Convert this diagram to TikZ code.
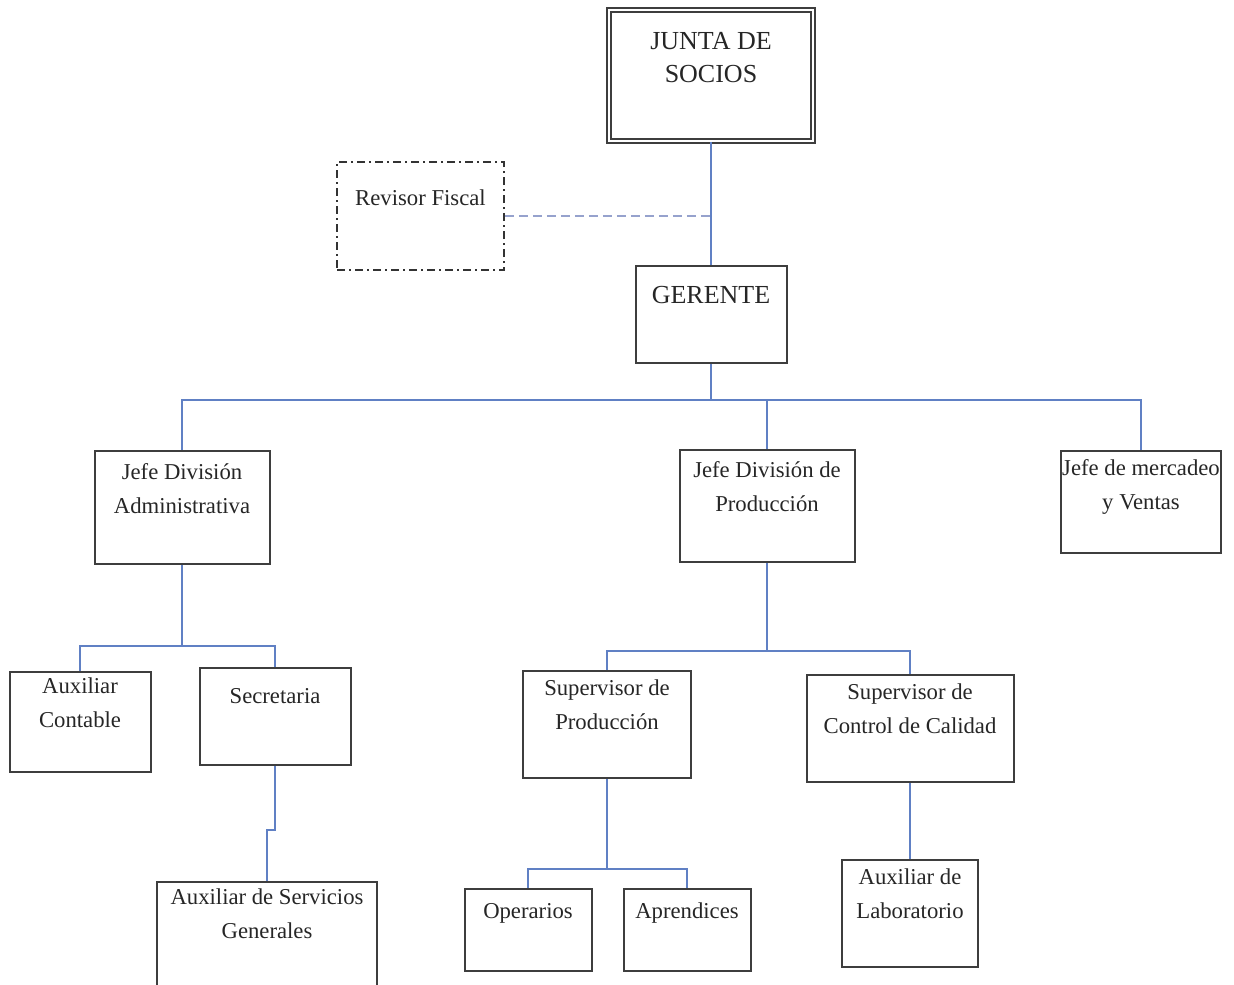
\documentclass[tikz,border=0pt]{standalone}
\usepackage{fontspec}
\setmainfont{Liberation Serif}
\definecolor{linkblue}{RGB}{96,128,196}
\definecolor{dashblue}{RGB}{150,162,205}
\definecolor{boxgray}{RGB}{62,62,62}
\begin{document}
\begin{tikzpicture}[x=1pt,y=-1pt,
  conn/.style={draw=linkblue, line width=1.8pt},
  orgbox/.style 2 args={draw=boxgray, line width=2pt, rectangle, inner sep=0pt,
    minimum width=#1pt, minimum height=#2pt},
  txt/.style={anchor=north, inner sep=0pt, align=center, text=black!85,
    font=\fontsize{22.7}{34}\selectfont},
  bigtxt/.style={txt, font=\fontsize{26}{33}\selectfont},
]
\useasboundingbox (0,0) rectangle (1234,985);

% top level
\node[orgbox={204}{131}, double, double distance=2pt,
  label={[bigtxt, yshift=-23pt]north:{JUNTA DE\\SOCIOS}}] (jds) at (711,75.5) {};
\node[draw=black!80, line width=1.5pt, dash pattern=on 8pt off 4pt on 2pt off 4pt,
  rectangle, inner sep=0pt, minimum width=167pt, minimum height=108pt,
  label={[txt, yshift=-28pt]north:{Revisor Fiscal}}] (rf) at (420.5,216) {};
\node[orgbox={151}{97}, label={[bigtxt, yshift=-21pt]north:{GERENTE}}] (ger) at (711,314.5) {};

% division heads
\node[orgbox={175}{113}, label={[txt, yshift=-13pt]north:{Jefe División\\Administrativa}}] (jda) at (182,507.5) {};
\node[orgbox={175}{112}, label={[txt, yshift=-12pt]north:{Jefe División de\\Producción}}] (jdp) at (767,506) {};
\node[orgbox={160}{102}, label={[txt, yshift=-9pt]north:{Jefe de mercadeo\\y Ventas}}] (jmv) at (1141,502) {};

% administrative branch
\node[orgbox={141}{100}, label={[txt, yshift=-7pt]north:{Auxiliar\\Contable}}] (ac) at (80,722) {};
\node[orgbox={151}{97}, label={[txt, yshift=-21pt]north:{Secretaria}}] (sec) at (275,716.5) {};
\node[orgbox={220}{116}, label={[txt, yshift=-8pt]north:{Auxiliar de Servicios\\Generales}}] (asg) at (267,940) {};

% production branch
\node[orgbox={168}{107}, label={[txt, yshift=-10pt]north:{Supervisor de\\Producción}}] (sp) at (607,724.5) {};
\node[orgbox={207}{107}, label={[txt, yshift=-10pt]north:{Supervisor de\\Control de Calidad}}] (scc) at (910,728.5) {};
\node[orgbox={127}{82}, label={[txt, yshift=-15pt]north:{Operarios}}] (op) at (528,930) {};
\node[orgbox={127}{82}, label={[txt, yshift=-15pt]north:{Aprendices}}] (apr) at (687,930) {};
\node[orgbox={136}{107}, label={[txt, yshift=-10pt]north:{Auxiliar de\\Laboratorio}}] (al) at (910,913.5) {};

% junction points
\coordinate (rfj) at (rf.east -| jds.south);
\path (ger.south) ++(0,36) coordinate (busG);
\path (jda.south) ++(0,81) coordinate (busA);
\path (jdp.south) ++(0,88) coordinate (busP);
\path (sp.south) ++(0,90) coordinate (busS);
\coordinate (jog) at (267,830);

% connectors
\draw[conn] (jds.south) -- (ger.north);
\draw[draw=dashblue, line width=2pt, dash pattern=on 9pt off 5pt] (rf.east) -- (rfj);
\draw[conn] (ger.south) -- (busG);
\draw[conn] (busG) -| (jda.north);
\draw[conn] (busG) -| (jdp.north);
\draw[conn] (busG) -| (jmv.north);
\draw[conn] (jda.south) -- (busA) -| (ac.north);
\draw[conn] (busA) -| (sec.north);
\draw[conn] (sec.south) |- (jog) -- (asg.north);
\draw[conn] (jdp.south) -- (busP) -| (sp.north);
\draw[conn] (busP) -| (scc.north);
\draw[conn] (sp.south) -- (busS) -| (op.north);
\draw[conn] (busS) -| (apr.north);
\draw[conn] (scc.south) -- (al.north);
\end{tikzpicture}
\end{document}
